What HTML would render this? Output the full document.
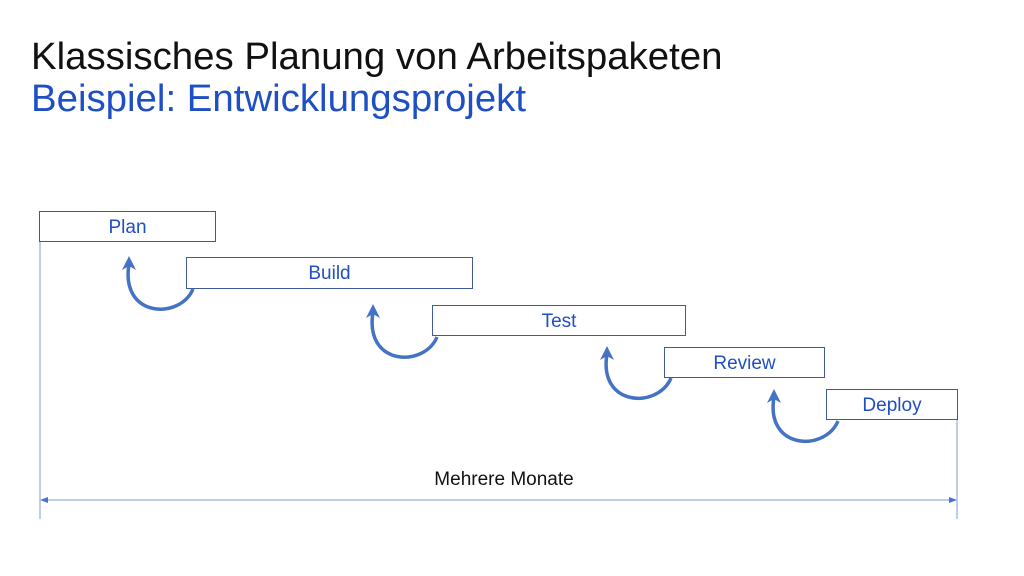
<!DOCTYPE html>
<html><head><meta charset="utf-8"><style>
body{margin:0;width:1024px;height:576px;background:#fff;overflow:hidden;position:relative;font-family:"Liberation Sans",sans-serif}
.t{position:absolute;left:31px;font-size:38.4px;white-space:nowrap}
.b{position:absolute;border:1.5px solid #3f5a9a;box-sizing:border-box;color:#1f4fc4;font-size:19px;text-align:center;line-height:31px;background:#fff}
</style></head><body>
<div class="t" style="top:35px;color:#111">Klassisches Planung von Arbeitspaketen</div>
<div class="t" style="top:77px;color:#1f4fc4">Beispiel: Entwicklungsprojekt</div>
<svg width="1024" height="576" style="position:absolute;left:0;top:0">
<g stroke="#a9bde0" stroke-width="1.5" fill="none">
<line x1="40" y1="241" x2="40" y2="519"/>
<line x1="957" y1="420" x2="957" y2="519"/>
<line x1="46" y1="500" x2="950" y2="500"/>
</g>
<polygon points="40,500 48,497 48,503" fill="#4a72c8"/>
<polygon points="957,500 949,497 949,503" fill="#4a72c8"/>
<g stroke="#4472c4" stroke-width="3.5" fill="none">
<path d="M193,289 C180,320 120,318 129,264"/>
<path d="M437,337 C424,368 364,366 373,312"/>
<path d="M671,378 C658,409 598,407 607,354"/>
<path d="M838,421 C825,452 765,450 774,397"/>
</g>
<g fill="#4472c4">
<polygon points="129,256 122,270 129,266 136,270"/>
<polygon points="373,304 366,318 373,314 380,318"/>
<polygon points="607,346 600,360 607,356 614,360"/>
<polygon points="774,389 767,403 774,399 781,403"/>
</g>
</svg>
<div class="b" style="left:39px;top:211px;width:177px;height:31px">Plan</div>
<div class="b" style="left:186px;top:257px;width:287px;height:32px">Build</div>
<div class="b" style="left:432px;top:305px;width:254px;height:31px">Test</div>
<div class="b" style="left:664px;top:347px;width:161px;height:31px">Review</div>
<div class="b" style="left:826px;top:389px;width:132px;height:31px">Deploy</div>
<div style="position:absolute;left:0;width:1008px;top:469px;text-align:center;font-size:19px;color:#111">Mehrere Monate</div>
</body></html>
